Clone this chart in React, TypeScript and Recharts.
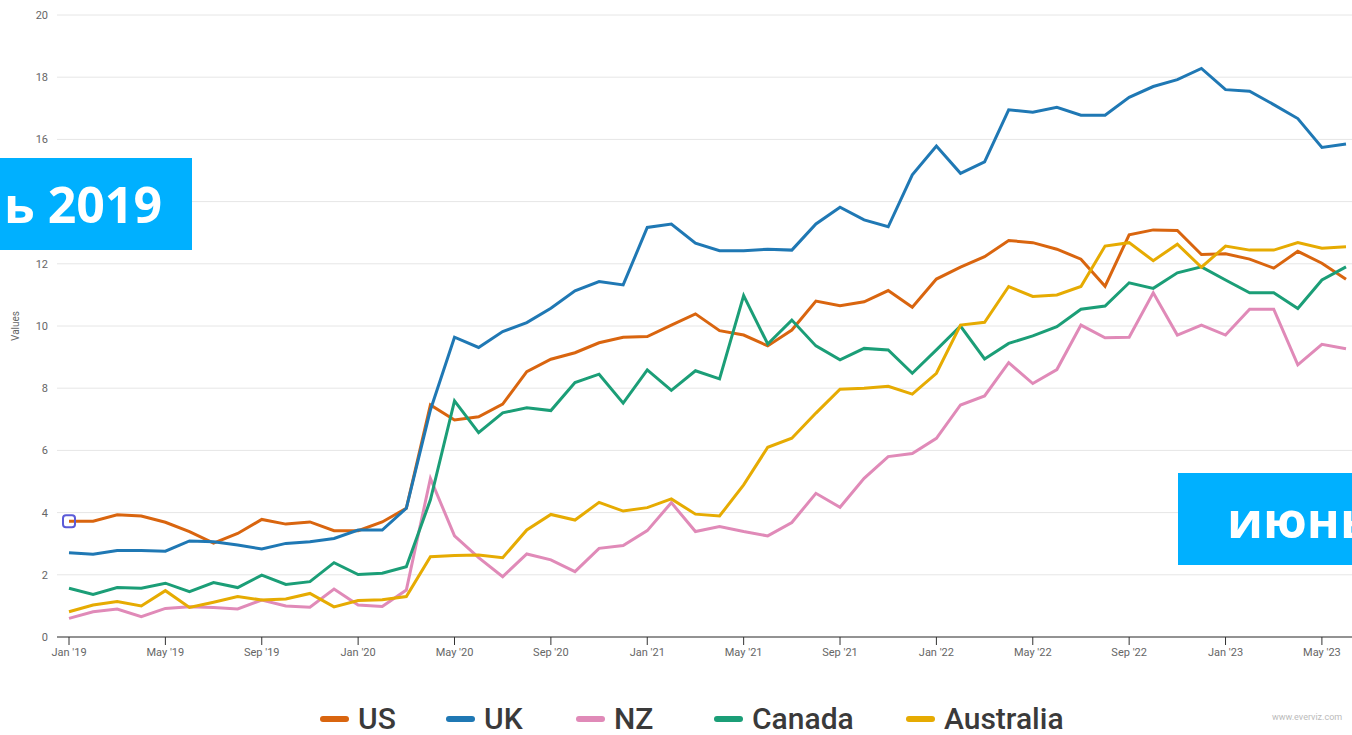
import React from "react";
import { LineChart, Line, XAxis, YAxis, CartesianGrid } from "recharts";

const monthNames = ["Jan", "Feb", "Mar", "Apr", "May", "Jun", "Jul", "Aug", "Sep", "Oct", "Nov", "Dec"];
const years = ["19", "20", "21", "22", "23"];

// Jan '19 .. Jun '23
const months: string[] = [];
years.forEach((y) => {
  monthNames.forEach((m) => {
    if (months.length < 54) months.push(`${m} '${y}`);
  });
});

const us = [
  3.72, 3.72, 3.93, 3.89, 3.69, 3.39, 3.02, 3.33, 3.78, 3.63, 3.7, 3.42,
  3.42, 3.7, 4.14, 7.46, 6.98, 7.08, 7.49, 8.53, 8.93, 9.14, 9.46, 9.64,
  9.66, 10.03, 10.39, 9.85, 9.71, 9.36, 9.87, 10.8, 10.65, 10.78, 11.14, 10.6,
  11.51, 11.89, 12.23, 12.75, 12.68, 12.47, 12.15, 11.28, 12.93, 13.09, 13.07, 12.3,
  12.32, 12.15, 11.86, 12.4, 12.02, 11.5,
];
const uk = [
  2.71, 2.66, 2.78, 2.78, 2.76, 3.09, 3.06, 2.96, 2.83, 3.01, 3.06, 3.17,
  3.44, 3.44, 4.14, 7.3, 9.64, 9.31, 9.82, 10.11, 10.57, 11.13, 11.43, 11.32,
  13.17, 13.28, 12.66, 12.42, 12.42, 12.47, 12.44, 13.28, 13.82, 13.41, 13.19, 14.86,
  15.79, 14.91, 15.28, 16.95, 16.87, 17.03, 16.78, 16.78, 17.35, 17.7, 17.92, 18.28,
  17.6, 17.55, 17.12, 16.67, 15.74, 15.85,
];
const nz = [
  0.6, 0.81, 0.9, 0.65, 0.92, 0.97, 0.95, 0.9, 1.19, 1.0, 0.96, 1.54,
  1.03, 0.98, 1.51, 5.1, 3.25, 2.55, 1.94, 2.67, 2.48, 2.1, 2.85, 2.94,
  3.42, 4.32, 3.39, 3.55, 3.39, 3.25, 3.68, 4.62, 4.17, 5.1, 5.8, 5.9,
  6.39, 7.46, 7.75, 8.82, 8.15, 8.6, 10.03, 9.62, 9.64, 11.07, 9.71, 10.03,
  9.71, 10.54, 10.54, 8.75, 9.41, 9.27,
];
const canada = [
  1.57, 1.37, 1.59, 1.57, 1.73, 1.46, 1.75, 1.59, 1.99, 1.69, 1.78, 2.39,
  2.01, 2.05, 2.26, 4.41, 7.59, 6.57, 7.21, 7.37, 7.28, 8.18, 8.45, 7.52,
  8.59, 7.93, 8.56, 8.3, 10.98, 9.42, 10.19, 9.36, 8.91, 9.28, 9.23, 8.48,
  9.23, 10.0, 8.94, 9.44, 9.68, 9.98, 10.54, 10.64, 11.39, 11.21, 11.71, 11.9,
  11.48, 11.07, 11.07, 10.56, 11.48, 11.9,
];
const australia = [
  0.81, 1.03, 1.14, 1.0, 1.49, 0.95, 1.12, 1.3, 1.19, 1.22, 1.4, 0.97,
  1.17, 1.2, 1.3, 2.58, 2.62, 2.64, 2.55, 3.44, 3.94, 3.76, 4.33, 4.05,
  4.16, 4.44, 3.95, 3.89, 4.89, 6.1, 6.39, 7.2, 7.97, 8.0, 8.06, 7.81,
  8.48, 10.03, 10.12, 11.27, 10.95, 11.0, 11.27, 12.57, 12.68, 12.1, 12.63, 11.89,
  12.57, 12.44, 12.44, 12.68, 12.5, 12.55,
];

const yTicks = [0, 2, 4, 6, 8, 10, 12, 14, 16, 18, 20];

const series = [
  { key: "US", color: "#d9650f" },
  { key: "UK", color: "#1f78b4" },
  { key: "NZ", color: "#e08ab8" },
  { key: "Canada", color: "#1b9e77" },
  { key: "Australia", color: "#e6ab02" },
];
// left edge of each legend swatch
const legendLeft = [320, 446, 576, 714, 906];

const data = months.map((m, i) => ({
  month: m,
  US: us[i],
  UK: uk[i],
  NZ: nz[i],
  Canada: canada[i],
  Australia: australia[i],
}));

const tickStyle = { fill: "#666", fontSize: 11, fontFamily: "Roboto, sans-serif" };

// hover marker on the first US point
const firstDot = (p: any) => {
  if (p.index !== 0) return <g key={`d${p.index}`} />;
  return (
    <rect
      key="d0"
      x={p.cx - 6}
      y={p.cy - 6}
      width={12}
      height={12}
      rx={3}
      fill="none"
      stroke="#5b5bd8"
      strokeWidth={2}
    />
  );
};

const boxStyle: React.CSSProperties = {
  position: "absolute",
  background: "#00b0ff",
  color: "#fff",
  fontFamily: "'Open Sans', sans-serif",
  fontWeight: 700,
  fontSize: 50,
  whiteSpace: "nowrap",
  overflow: "hidden",
  display: "flex",
  alignItems: "center",
};

export default function App() {
  return (
    <div style={{ position: "relative", width: 1352, height: 735, overflow: "hidden", background: "#fff" }}>
      <style>{"body{margin:0;overflow:hidden}"}</style>
      <LineChart
        width={1352}
        height={735}
        data={data}
        margin={{ top: 15, right: 0, left: 0, bottom: 68 }}
      >
        <CartesianGrid vertical={false} stroke="#e6e6e6" />
        <XAxis
          dataKey="month"
          interval={3}
          padding={{ left: 12, right: 6 }}
          height={30}
          stroke="#333"
          tickSize={8}
          tickMargin={3}
          tick={tickStyle}
        />
        <YAxis
          domain={[0, 20]}
          ticks={yTicks}
          width={57}
          axisLine={false}
          tickLine={false}
          tickSize={0}
          tickMargin={9}
          tick={tickStyle}
          label={{
            value: "Values",
            angle: -90,
            position: "insideLeft",
            offset: 15,
            style: { textAnchor: "middle", fill: "#666", fontSize: 10, fontFamily: "Roboto, sans-serif" },
          }}
        />
        {series.map((s) => (
          <Line
            key={s.key}
            type="linear"
            dataKey={s.key}
            stroke={s.color}
            strokeWidth={3}
            dot={s.key === "US" ? firstDot : false}
            activeDot={false}
            isAnimationActive={false}
          />
        ))}
      </LineChart>

      <div style={{ ...boxStyle, left: -10, top: 158, width: 202, height: 92, justifyContent: "flex-end" }}>
        <span style={{ marginRight: 30 }}>ь 2019</span>
      </div>
      <div style={{ ...boxStyle, left: 1178, top: 473, width: 200, height: 92 }}>
        <span style={{ marginLeft: 49 }}>июнь</span>
      </div>

      {series.map((s, i) => (
        <div
          key={s.key}
          style={{
            position: "absolute",
            top: 705,
            left: legendLeft[i],
            height: 28,
            display: "flex",
            alignItems: "center",
            fontFamily: "Roboto, sans-serif",
            fontWeight: 500,
            fontSize: 30,
            lineHeight: "28px",
            color: "#3a3a3a",
            whiteSpace: "nowrap",
          }}
        >
          <span style={{ width: 29, height: 6, borderRadius: 3, background: s.color, marginRight: 9 }} />
          <span>{s.key}</span>
        </div>
      ))}

      <div
        style={{
          position: "absolute",
          top: 712,
          left: 1272,
          fontFamily: "Roboto, sans-serif",
          fontSize: 9,
          color: "#bbb",
          whiteSpace: "nowrap",
        }}
      >
        www.everviz.com
      </div>
    </div>
  );
}
